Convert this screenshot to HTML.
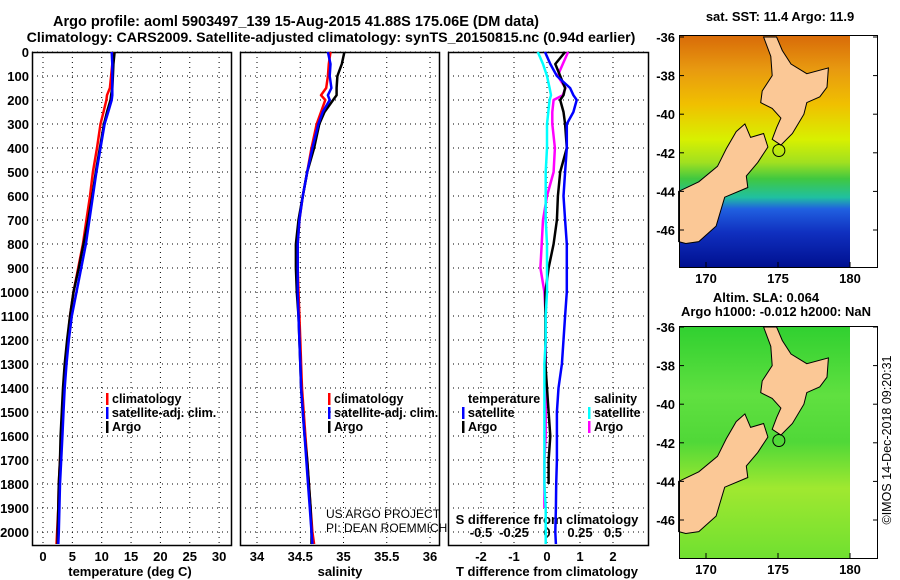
<!DOCTYPE html>
<html><head><meta charset="utf-8">
<style>
html,body{margin:0;padding:0;background:#fff;}
svg{display:block;font-family:"Liberation Sans",sans-serif;font-weight:bold;}
</style></head>
<body>
<svg id="c" width="900" height="580" viewBox="0 0 900 580">
<text x="296" y="26" font-size="14.5" text-anchor="middle">Argo profile: aoml 5903497_139 15-Aug-2015 41.88S 175.06E (DM data)</text>
<text x="331" y="42" font-size="14.2" text-anchor="middle">Climatology: CARS2009. Satellite-adjusted climatology: synTS_20150815.nc (0.94d earlier)</text>
<g id="g"></g>
</svg>
<script>
// ---------- data ----------
const depthTicks = [0,100,200,300,400,500,600,700,800,900,1000,1100,1200,1300,1400,1500,1600,1700,1800,1900,2000];
const tTicks = [0,5,10,15,20,25,30];
const sTicks = [34,34.5,35,35.5,36];
const tdTicks = [-2,-1,0,1,2];
const sdTicks = [-0.5,-0.25,0,0.25,0.5];
const sdLabels = ['-0.5','-0.25','0','0.25','0.5'];
const depths = [0,50,100,150,180,200,250,300,400,500,600,700,800,900,1000,1100,1200,1300,1400,1500,1600,1700,1800,1900,2000,2050];
const tClim  = [11.8,11.8,11.6,11.4,10.9,10.8,10.3,9.8,9.2,8.5,8.0,7.4,6.8,6.0,5.2,4.6,4.2,3.8,3.5,3.3,3.1,2.9,2.7,2.6,2.4,2.3];
const tSat   = [11.7,11.8,11.8,11.8,11.8,11.7,11.1,10.5,9.8,9.1,8.5,7.9,7.3,6.5,5.7,4.9,4.4,4.0,3.7,3.5,3.3,3.1,2.9,2.8,2.7,2.6];
const tArgo  = [12.2,12.0,11.9,11.8,11.6,11.5,10.9,10.4,9.7,9.0,8.4,7.7,6.9,6.1,5.2,4.6,4.1,3.7,3.4,3.2,3.0,2.9,2.7,2.6,2.5,2.5];
const sClim  = [34.85,34.83,34.82,34.80,34.74,34.79,34.74,34.69,34.63,34.58,34.53,34.49,34.47,34.47,34.48,34.49,34.50,34.51,34.52,34.54,34.56,34.58,34.60,34.62,34.64,34.66];
const sSat   = [34.82,34.85,34.84,34.86,34.82,34.84,34.76,34.71,34.64,34.58,34.53,34.49,34.47,34.47,34.47,34.48,34.49,34.50,34.51,34.53,34.55,34.57,34.59,34.61,34.63,34.64];
const sArgo  = [35.01,34.98,34.93,34.92,34.92,34.88,34.78,34.72,34.66,34.58,34.53,34.48,34.45,34.45,34.46,34.48,34.49,34.50,34.51,34.53,34.55,34.58,34.60,34.62,34.63,34.63];
const tdSat  = [-0.06,0.1,0.3,0.7,0.8,0.9,0.8,0.6,0.6,0.55,0.5,0.55,0.6,0.6,0.6,0.55,0.5,0.45,0.35,0.3,0.3,0.3,0.28,0.27,0.25,0.27];
const tdArgo = [0.55,0.25,0.4,0.55,0.5,0.4,0.5,0.55,0.6,0.4,0.33,0.3,0.2,0.05,-0.05,-0.05,-0.05,-0.05,0.0,0.05,0.1,0.05,0.05,null,null,null];
const sdSat  = [-0.07,-0.03,0.0,0.02,0.03,0.02,0.01,0.0,0.0,-0.01,-0.01,-0.01,0.0,0.0,0.0,-0.01,-0.01,-0.02,-0.02,-0.02,-0.02,-0.02,-0.02,-0.01,-0.01,-0.01];
const sdArgo = [0.16,0.12,0.08,0.14,0.12,0.05,0.04,0.04,0.06,0.05,0.0,-0.03,-0.04,-0.05,-0.02,-0.01,-0.01,-0.01,-0.01,-0.01,-0.01,-0.02,-0.02,-0.02,null,null];
const latTicks = [-36,-38,-40,-42,-44,-46];
const lonTicks = [170,175,180];
const northIsland = [[174.0,-36],[174.9,-36],[175.3,-36.7],[175.9,-37.4],[177,-37.9],[178.5,-37.6],[178.4,-38.6],[177.9,-39.1],[177,-39.4],[176.8,-40],[176,-41],[175.2,-41.6],[174.6,-41.3],[174.9,-40.7],[175.2,-40.2],[174.6,-39.7],[173.8,-39.4],[173.9,-38.8],[174.6,-38.0],[174.5,-37.0]];
const southIsland = [[172.7,-40.5],[173.1,-41.2],[174.0,-41.0],[174.3,-41.7],[173.6,-42.5],[172.8,-43.2],[172.9,-43.8],[171.3,-44.3],[170.7,-45.8],[169.5,-46.6],[168.6,-46.7],[168.1,-46.6],[168.1,-44.0],[169.5,-43.5],[170.8,-42.7],[171.4,-41.8],[172.1,-40.9]];

// ---------- helpers ----------
const NS='http://www.w3.org/2000/svg';
const G=document.getElementById('g');
function el(tag,attrs,parent){const e=document.createElementNS(NS,tag);for(const k in attrs)e.setAttribute(k,attrs[k]);(parent||G).appendChild(e);return e;}
function txt(x,y,s,size,anchor,parent){const t=el('text',{x:x,y:y,'font-size':size,'text-anchor':anchor||'middle'},parent);t.textContent=s;return t;}
const Y=d=>52+d*0.24;
const TOP=52,BOT=545;
const panels=[
 {name:'temperature',x0:32,x1:231,X:v=>43+v*5.87,ticks:tTicks,lab:v=>String(v)},
 {name:'salinity',x0:240,x1:439,X:v=>257+(v-34)*86.5,ticks:sTicks,lab:v=>String(v)},
 {name:'difference',x0:448,x1:648,X:v=>547+v*33,ticks:tdTicks,lab:v=>String(v)}
];
panels.forEach((p,i)=>{
  const g=el('g',{});
  
  
  p.ticks.forEach(v=>{const l=el('line',{x1:p.X(v),x2:p.X(v),y1:TOP,y2:BOT,stroke:'#000','stroke-width':1,'stroke-dasharray':'1,4'},g);
    
    const t=txt(p.X(v),561,p.lab(v),13,'middle',g);});
  depthTicks.forEach(d=>{const l=el('line',{x1:p.x0,x2:p.x1,y1:Y(d),y2:Y(d),stroke:'#000','stroke-width':1,'stroke-dasharray':'1,4'},g);
    });
  const r=el('rect',{x:p.x0+0.5,y:TOP+0.5,width:p.x1-p.x0,height:BOT-TOP,fill:'none',stroke:'#000','stroke-width':1.5},g);
  
});
depthTicks.forEach(d=>{const t=txt(29,Y(d)+5,String(d),13,'end');});
sdTicks.forEach((v,i)=>{const t=txt(547+v*132,537,sdLabels[i],13,'middle');});
let t;
t=txt(130,576,'temperature (deg C)',13);
t=txt(340,576,'salinity',13);
t=txt(547,576,'T difference from climatology',13);
t=txt(547,524,'S difference from climatology',13);
t=txt(326,518,'US ARGO PROJECT',12,'start');t.setAttribute('font-weight','normal');
t=txt(326,532,'PI: DEAN ROEMMICH',12,'start');t.setAttribute('font-weight','normal');

function line(vals,X,color,name,w){
  let d='';let pen=false;
  vals.forEach((v,i)=>{if(v===null){pen=false;return;}d+=(pen?'L':'M')+X(v).toFixed(1)+','+Y(depths[i]).toFixed(1);pen=true;});
  const p=el('path',{d:d,fill:'none',stroke:color,'stroke-width':w||2.5,'stroke-linejoin':'round'});
  
  
}
const P=panels;
line(tClim,P[0].X,'#f00','temp-climatology-line');
line(tArgo,P[0].X,'#000','temp-argo-line');
line(tSat,P[0].X,'#00f','temp-satellite-line');
line(sClim,P[1].X,'#f00','sal-climatology-line');
line(sArgo,P[1].X,'#000','sal-argo-line');
line(sSat,P[1].X,'#00f','sal-satellite-line');
const SX=v=>547+v*132;
line(sdArgo,SX,'#f0f','sdiff-argo-line');
line(tdArgo,P[2].X,'#000','tdiff-argo-line');
line(tdSat,P[2].X,'#00f','tdiff-satellite-line');
line(sdSat,SX,'#0ff','sdiff-satellite-line');

function legend(x,y,items,name){
  const g=el('g',{});
  
  
  items.forEach((it,i)=>{
    if(it[1]) el('rect',{x:x,y:y+i*14-10,width:2.5,height:12,fill:it[1]},g);
    txt(x+6,y+i*14,it[0],12.5,'start',g);
  });
}
legend(106,403,[['climatology','#f00'],['satellite-adj. clim.','#00f'],['Argo','#000']],'legend-temperature');
legend(328,403,[['climatology','#f00'],['satellite-adj. clim.','#00f'],['Argo','#000']],'legend-salinity');
legend(462,403,[['temperature',null],['satellite','#00f'],['Argo','#000']],'legend-t-diff');
legend(588,403,[['salinity',null],['satellite','#0ff'],['Argo','#f0f']],'legend-s-diff');

// ---------- maps ----------
function map(y0,lat36y,name,bg){
  const g=el('g',{});
  
  
  const MX=lon=>706+(lon-170)*14.4, MY=lat=>lat36y+(-36-lat)*19.3;
  const h=232;
  const defs=el('defs',{},g);
  const lg=el('linearGradient',{id:name+'-grad',x1:0,y1:0,x2:0,y2:1},defs);
  bg.forEach(s=>el('stop',{offset:s[0],'stop-color':s[1]},lg));
  el('rect',{x:679,y:y0,width:171,height:h,fill:'url(#'+name+'-grad)'},g);
  [northIsland,southIsland].forEach((isl,k)=>{
    const p=el('polygon',{points:isl.map(q=>MX(q[0]).toFixed(1)+','+MY(q[1]).toFixed(1)).join(' '),fill:'#fbc896',stroke:'#000','stroke-width':1},g);
    
    
  });
  el('circle',{cx:MX(175.06),cy:MY(-41.88),r:6,fill:'none',stroke:'#000'},g);
  el('rect',{x:679.5,y:y0+0.5,width:198,height:h,fill:'none',stroke:'#000','stroke-width':1},g);
  latTicks.forEach(v=>{el('line',{x1:679,x2:684,y1:MY(v),y2:MY(v),stroke:'#000'},g);el('line',{x1:873,x2:878,y1:MY(v),y2:MY(v),stroke:'#000'},g);
    txt(675,MY(v)+5,String(v),13,'end',g);});
  lonTicks.forEach(v=>{txt(MX(v),y0+h+16,String(v),13,'middle',g);el('line',{x1:MX(v),x2:MX(v),y1:y0+h-5,y2:y0+h,stroke:'#000'},g);});
}
map(35,37,'sst-map',[[0,'#d86a08'],[0.15,'#e89a10'],[0.3,'#f0c000'],[0.45,'#d8f000'],[0.55,'#a0e020'],[0.62,'#40c840'],[0.7,'#20c0a0'],[0.75,'#2060e0'],[0.85,'#1030c0'],[1,'#001090']]);
map(326,327,'sla-map',[[0,'#30d030'],[0.3,'#60e040'],[0.5,'#50d838'],[0.7,'#a0e830'],[1,'#70e030']]);
t=txt(780,21,'sat. SST: 11.4 Argo: 11.9',13);
t=txt(766,302,'Altim. SLA: 0.064',13);
t=txt(776,316,'Argo h1000: -0.012 h2000: NaN',13);
t=txt(0,0,'©IMOS 14-Dec-2018 09:20:31',12.5);t.setAttribute('font-weight','normal');t.setAttribute('transform','translate(891,440) rotate(-90)');

</script>
</body></html>
